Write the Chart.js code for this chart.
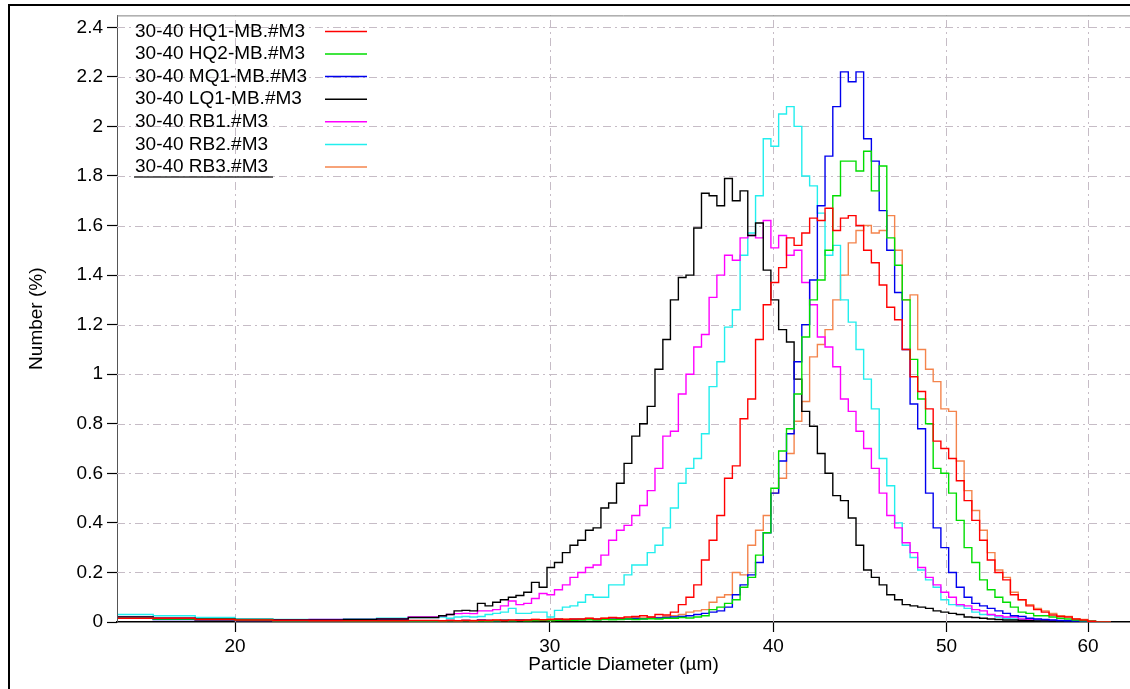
<!DOCTYPE html>
<html>
<head>
<meta charset="utf-8">
<title>Particle size distribution</title>
<script src="https://cdn.jsdelivr.net/npm/chart.js@4/dist/chart.umd.min.js"></script>
<style>
  html, body { margin: 0; padding: 0; background: #fff; overflow: hidden; }
  .frame {
    position: absolute; left: 8px; top: 4px; width: 1200px; height: 800px;
    border-left: 2px solid #000; border-top: 2px solid #000;
  }
  #sizeChart { position: absolute; left: 0; top: 0; z-index: 1; }
</style>
</head>
<body>
<div class="frame"></div>
<canvas id="sizeChart" width="1130" height="689"></canvas>
<script>
// bin lower edges (µm): coarse below 26, then log steps of 1 %
const diameters = [
  17.2, 18, 19, 20, 21, 22, 23, 24, 25,
  26.00, 26.26, 26.52, 26.79, 27.06, 27.33, 27.60, 27.87, 28.15, 28.44,
  28.72, 29.01, 29.30, 29.59, 29.89, 30.18, 30.49, 30.79, 31.10, 31.41,
  31.72, 32.04, 32.36, 32.69, 33.01, 33.34, 33.68, 34.01, 34.35, 34.70,
  35.04, 35.40, 35.75, 36.11, 36.47, 36.83, 37.20, 37.57, 37.95, 38.33,
  38.71, 39.10, 39.49, 39.88, 40.28, 40.69, 41.09, 41.50, 41.92, 42.34,
  42.76, 43.19, 43.62, 44.06, 44.50, 44.94, 45.39, 45.85, 46.30, 46.77,
  47.23, 47.71, 48.18, 48.67, 49.15, 49.64, 50.14, 50.64, 51.15, 51.66,
  52.18, 52.70, 53.22, 53.76, 54.29, 54.84, 55.39, 55.94, 56.50, 57.06,
  57.63, 58.21, 58.79, 59.38, 59.98, 60.58, 61.18, 61.79
];

// Number (%) per bin
const hq1 = [
  0.015, 0.015, 0.01, 0.008, 0.006, 0.005, 0.005, 0.005, 0.006,
  0.005, 0.006, 0.005, 0.006, 0.005, 0.007, 0.006, 0.008, 0.006, 0.008,
  0.007, 0.008, 0.01, 0.009, 0.01, 0.012, 0.01, 0.012, 0.012, 0.015,
  0.012, 0.015, 0.018, 0.016, 0.02, 0.022, 0.025, 0.02, 0.03, 0.028,
  0.04, 0.07, 0.10, 0.15, 0.25, 0.33, 0.43, 0.58, 0.63, 0.82,
  0.90, 1.14, 1.28, 1.37, 1.43, 1.55, 1.52, 1.57, 1.63, 1.62,
  1.67, 1.58, 1.63, 1.64, 1.60, 1.50, 1.45, 1.36, 1.27, 1.22,
  1.10, 0.99, 0.93, 0.86, 0.73, 0.70, 0.66, 0.57, 0.49, 0.41,
  0.33, 0.25, 0.20, 0.17, 0.11, 0.09, 0.065, 0.05, 0.04, 0.028,
  0.022, 0.02, 0.012, 0.008, 0.003, 0, 0, 0
];
const hq2 = [
  0.015, 0.012, 0.01, 0.008, 0.005, 0.005, 0.004, 0.004, 0.004,
  0.004, 0.005, 0.004, 0.005, 0.004, 0.005, 0.004, 0.005, 0.006, 0.005,
  0.006, 0.005, 0.006, 0.007, 0.006, 0.007, 0.008, 0.007, 0.008, 0.009,
  0.008, 0.01, 0.009, 0.01, 0.012, 0.01, 0.012, 0.013, 0.012, 0.015,
  0.015, 0.018, 0.016, 0.02, 0.025, 0.05, 0.06, 0.075, 0.09, 0.14,
  0.18, 0.27, 0.36, 0.54, 0.69, 0.78, 0.92, 1.15, 1.30, 1.38,
  1.50, 1.72, 1.86, 1.86, 1.82, 1.90, 1.74, 1.84, 1.55, 1.44,
  1.30, 1.06, 0.90, 0.80, 0.62, 0.60, 0.52, 0.41, 0.30, 0.24,
  0.17, 0.13, 0.10, 0.08, 0.06, 0.04, 0.035, 0.025, 0.025, 0.02,
  0.015, 0.012, 0.008, 0.005, 0.003, 0, 0, 0
];
const mq1 = [
  0.015, 0.01, 0.008, 0.006, 0.005, 0.005, 0.004, 0.005, 0.004,
  0.005, 0.006, 0.004, 0.006, 0.005, 0.008, 0.006, 0.005, 0.007, 0.006,
  0.008, 0.007, 0.009, 0.008, 0.008, 0.01, 0.008, 0.01, 0.01, 0.012,
  0.01, 0.012, 0.011, 0.013, 0.012, 0.014, 0.013, 0.015, 0.016, 0.018,
  0.02, 0.022, 0.025, 0.03, 0.035, 0.04, 0.045, 0.06, 0.11, 0.15,
  0.19, 0.24, 0.36, 0.52, 0.65, 0.76, 1.05, 1.20, 1.38, 1.68,
  1.88, 2.08, 2.22, 2.18, 2.22, 1.95, 1.86, 1.66, 1.50, 1.33,
  1.10, 0.88, 0.78, 0.52, 0.38, 0.30, 0.20, 0.14, 0.10, 0.075,
  0.065, 0.055, 0.045, 0.035, 0.025, 0.022, 0.015, 0.012, 0.01, 0.008,
  0.006, 0.005, 0.004, 0.003, 0.002, 0, 0, 0
];
const lq1 = [
  0.02, 0.015, 0.012, 0.01, 0.008, 0.008, 0.01, 0.012, 0.018,
  0.025, 0.03, 0.045, 0.047, 0.045, 0.075, 0.065, 0.08, 0.09, 0.10,
  0.107, 0.12, 0.16, 0.14, 0.22, 0.24, 0.28, 0.31, 0.33, 0.37,
  0.38, 0.46, 0.48, 0.56, 0.64, 0.75, 0.80, 0.87, 1.02, 1.14,
  1.30, 1.39, 1.40, 1.59, 1.73, 1.72, 1.68, 1.79, 1.70, 1.74,
  1.56, 1.61, 1.42, 1.30, 1.18, 1.13, 0.98, 0.85, 0.79, 0.68,
  0.60, 0.51, 0.49, 0.42, 0.31, 0.21, 0.18, 0.15, 0.11, 0.09,
  0.07, 0.065, 0.06, 0.055, 0.045, 0.04, 0.035, 0.03, 0.02, 0.018,
  0.015, 0.012, 0.01, 0.008, 0.008, 0.006, 0.005, 0.004, 0.004, 0.003,
  0.003, 0.002, 0.002, 0.001, 0.001, 0, 0, 0
];
const rb1 = [
  0.02, 0.015, 0.01, 0.008, 0.008, 0.01, 0.01, 0.012, 0.02,
  0.025, 0.03, 0.034, 0.035, 0.034, 0.045, 0.045, 0.05, 0.065, 0.085,
  0.07, 0.075, 0.095, 0.115, 0.11, 0.13, 0.15, 0.18, 0.20, 0.22,
  0.23, 0.27, 0.33, 0.37, 0.39, 0.43, 0.47, 0.53, 0.62, 0.75,
  0.77, 0.92, 1.0, 1.11, 1.16, 1.31, 1.40, 1.48, 1.46, 1.55,
  1.56, 1.55, 1.62, 1.51, 1.56, 1.48, 1.50, 1.37, 1.28, 1.15,
  1.11, 1.03, 0.90, 0.85, 0.77, 0.70, 0.62, 0.52, 0.43, 0.38,
  0.32, 0.28, 0.22, 0.18, 0.15, 0.12, 0.10, 0.07, 0.065, 0.05,
  0.045, 0.03, 0.025, 0.02, 0.02, 0.012, 0.01, 0.01, 0.008, 0.006,
  0.005, 0.004, 0.003, 0.002, 0.001, 0, 0, 0
];
const rb2 = [
  0.03, 0.025, 0.018, 0.012, 0.01, 0.01, 0.012, 0.015, 0.018,
  0.02, 0.015, 0.02, 0.022, 0.02, 0.022, 0.03, 0.035, 0.04, 0.055,
  0.035, 0.035, 0.04, 0.04, 0.02, 0.047, 0.06, 0.065, 0.08, 0.11,
  0.10, 0.10, 0.15, 0.15, 0.19, 0.23, 0.23, 0.28, 0.31, 0.38,
  0.46, 0.56, 0.62, 0.66, 0.76, 0.95, 1.05, 1.19, 1.26, 1.48,
  1.57, 1.72, 1.95, 1.92, 2.05, 2.08, 2.0, 1.8, 1.76, 1.65,
  1.48, 1.52, 1.30, 1.21, 1.10, 0.98, 0.86, 0.66, 0.55, 0.40,
  0.31, 0.26, 0.21, 0.17, 0.14, 0.09, 0.07, 0.065, 0.055, 0.04,
  0.03, 0.028, 0.02, 0.015, 0.012, 0.01, 0.01, 0.008, 0.006, 0.005,
  0.004, 0.003, 0.002, 0.002, 0.001, 0, 0, 0
];
const rb3 = [
  0.015, 0.012, 0.008, 0.006, 0.005, 0.005, 0.005, 0.006, 0.005,
  0.005, 0.006, 0.005, 0.007, 0.006, 0.006, 0.008, 0.007, 0.008, 0.007,
  0.009, 0.008, 0.01, 0.009, 0.011, 0.01, 0.012, 0.011, 0.012, 0.014,
  0.012, 0.015, 0.013, 0.016, 0.015, 0.018, 0.016, 0.02, 0.018, 0.022,
  0.025, 0.03, 0.04, 0.045, 0.05, 0.08, 0.10, 0.11, 0.20, 0.19,
  0.31, 0.37, 0.43, 0.52, 0.58, 0.68, 0.81, 0.89, 1.07, 1.12,
  1.18, 1.30, 1.40, 1.53, 1.58, 1.60, 1.57, 1.58, 1.64, 1.50,
  1.30, 1.32, 1.10, 1.02, 0.97, 0.86, 0.85, 0.65, 0.53, 0.45,
  0.37, 0.28, 0.21, 0.18, 0.12, 0.09, 0.07, 0.055, 0.045, 0.035,
  0.025, 0.022, 0.012, 0.01, 0.004, 0, 0, 0
];

const seriesLabels = ['30-40 HQ1-MB.#M3', '30-40 HQ2-MB.#M3', '30-40 MQ1-MB.#M3', '30-40 LQ1-MB.#M3',
  '30-40 RB1.#M3', '30-40 RB2.#M3', '30-40 RB3.#M3'];
const seriesValues = [hq1, hq2, mq1, lq1, rb1, rb2, rb3];
const seriesColors = ['#ff0000', '#00dd00', '#0000ee', '#000000', '#ff00ff', '#22eeee', '#f4844c'];

const xTicks = [20, 30, 40, 50, 60];
const yTicks = [0, 0.2, 0.4, 0.6, 0.8, 1, 1.2, 1.4, 1.6, 1.8, 2, 2.2, 2.4];

const gridColor = '#c6bcc6';
const gridDash = [8, 4, 2, 4];
const FONT = "'Liberation Sans', Arial, sans-serif";
Chart.defaults.font.family = FONT;
Chart.defaults.color = '#000';

// dash-dot grid lines at the ticks, plus the grey top edge of the plot
const dashedGrid = {
  id: 'dashedGrid',
  beforeDatasetsDraw(chart) {
    const { ctx, chartArea } = chart;
    const xs = chart.scales.x, ys = chart.scales.y;
    ctx.save();
    ctx.strokeStyle = gridColor;
    ctx.lineWidth = 1;
    ctx.setLineDash(gridDash);
    xs.ticks.forEach(t => {
      const px = Math.round(xs.getPixelForValue(t.value)) + 0.5;
      ctx.beginPath();
      ctx.moveTo(px, chartArea.bottom);
      ctx.lineTo(px, chartArea.top);
      ctx.stroke();
    });
    ys.ticks.forEach(t => {
      if (t.value === 0) return;
      const py = Math.round(ys.getPixelForValue(t.value)) + 0.5;
      ctx.beginPath();
      ctx.moveTo(chartArea.left, py);
      ctx.lineTo(chartArea.right, py);
      ctx.stroke();
    });
    ctx.setLineDash([]);
    ctx.strokeStyle = '#808080';
    ctx.beginPath();
    ctx.moveTo(chartArea.left, chartArea.top + 0.5);
    ctx.lineTo(chartArea.right, chartArea.top + 0.5);
    ctx.stroke();
    ctx.restore();
  }
};

// legend inside the plot: label first, line sample after it
const insideLegend = {
  id: 'insideLegend',
  afterDatasetsDraw(chart) {
    const { ctx, chartArea } = chart;
    const x0 = chartArea.left;
    ctx.save();
    ctx.font = '19px ' + FONT;
    ctx.textBaseline = 'middle';
    chart.data.datasets.forEach((ds, i) => {
      const y = chartArea.top + 16 + i * 22.6;
      ctx.fillStyle = '#000';
      ctx.fillText(ds.label, x0 + 18, y);
      ctx.strokeStyle = ds.borderColor;
      ctx.lineWidth = 1.5;
      ctx.beginPath();
      ctx.moveTo(x0 + 208, y);
      ctx.lineTo(x0 + 250, y);
      ctx.stroke();
    });
    ctx.strokeStyle = '#333';
    ctx.lineWidth = 1.5;
    ctx.beginPath();
    ctx.moveTo(x0 + 17, chartArea.top + 161.5);
    ctx.lineTo(x0 + 156, chartArea.top + 161.5);
    ctx.stroke();
    ctx.restore();
  }
};

const ctx = document.getElementById('sizeChart').getContext('2d');
const sizeChart = new Chart(ctx, {
  type: 'line',
  data: {
    datasets: seriesLabels.map((label, k) => ({
      label: label,
      data: diameters.map((d, i) => ({ x: d, y: seriesValues[k][i] })),
      borderColor: seriesColors[k],
      borderWidth: 1.4,
      pointRadius: 0,
      stepped: true,
      fill: false
    }))
  },
  options: {
    responsive: false,
    animation: false,
    layout: { padding: { top: 12, left: 0, right: 0, bottom: 0 } },
    plugins: {
      legend: { display: false },
      tooltip: { enabled: false }
    },
    scales: {
      x: {
        type: 'logarithmic',
        min: 17.18,
        max: 63.33,
        afterBuildTicks: s => { s.ticks = xTicks.map(v => ({ value: v })); },
        afterFit: s => { s.height = 67; },
        ticks: { font: { size: 19 }, padding: 3, maxRotation: 0, autoSkip: false, callback: v => String(v) },
        grid: { drawOnChartArea: false, tickColor: '#000', tickLength: 10, tickWidth: 1.2 },
        border: { color: '#000', width: 1.5 },
        title: { display: true, text: 'Particle Diameter (µm)', font: { size: 19 }, padding: { top: 0, bottom: 13 } }
      },
      y: {
        min: 0,
        max: 2.448,
        afterBuildTicks: s => { s.ticks = yTicks.map(v => ({ value: v })); },
        afterFit: s => { s.width = 117; },
        ticks: { font: { size: 19 }, padding: 4, callback: v => String(Number(v.toFixed(1))) },
        grid: { drawOnChartArea: false, tickColor: '#000', tickLength: 10, tickWidth: 1.2 },
        border: { color: '#555', width: 1 },
        title: { display: true, text: 'Number (%)', font: { size: 19 }, padding: { top: 25, bottom: 0 } }
      }
    }
  },
  plugins: [dashedGrid, insideLegend]
});
</script>
</body>
</html>
